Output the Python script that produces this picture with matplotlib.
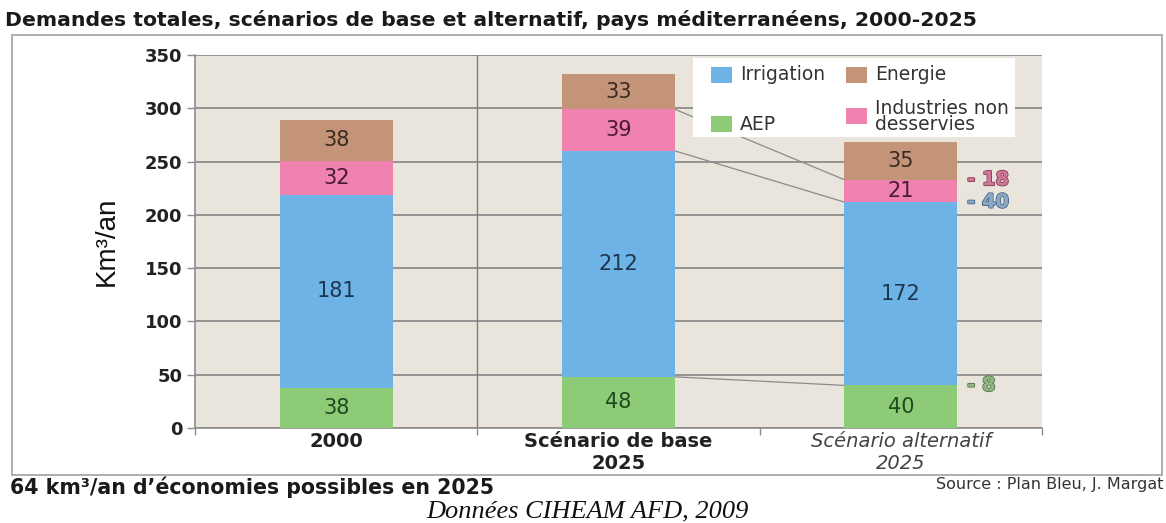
import numpy as np
import matplotlib.pyplot as plt
from matplotlib.patches import Rectangle
import matplotlib.patheffects as pe

# données (km3/an)
categories = ['2000', 'Scénario de base\n2025', 'Scénario alternatif\n2025']
aep = [38, 48, 40]
irrigation = [181, 212, 172]
industries = [32, 39, 21]
energie = [38, 33, 35]
yticks = [0, 50, 100, 150, 200, 250, 300, 350]

series = [('AEP', aep, '#8DCB76', '#1F4A1F'),
          ('Irrigation', irrigation, '#6DB3E5', '#1F3550'),
          ('Industries non\ndesservies', industries, '#EF82AF', '#4A1A30'),
          ('Energie', energie, '#C49479', '#3A2A20')]
diff_colors = {'AEP': ('#8DB57F', '#4F7045'),
               'Irrigation': ('#8AA8C6', '#3F5F80'),
               'Industries non\ndesservies': ('#CF7896', '#7A3550')}

W, H = 1166, 523
AX_L, AX_R, AX_T, AX_B = 195, 1042, 55, 428

fig = plt.figure(figsize=(W/100, H/100), dpi=100)

# cadre blanc autour du graphique
fig.patches.append(Rectangle((12/W, 1-475/H), 1150/W, 440/H,
                             transform=fig.transFigure, facecolor='white',
                             edgecolor='#A8A8A8', lw=1.3, zorder=-5))

ax = fig.add_axes([AX_L/W, 1-AX_B/H, (AX_R-AX_L)/W, (AX_B-AX_T)/H])
ax.set_facecolor('#EAE5DC')

def axpos(px, py):
    # pixel (image) -> fraction d'axes
    return (px - AX_L) / (AX_R - AX_L), (AX_B - py) / (AX_B - AX_T)

x = np.arange(len(categories))
w = 0.4
bottom = np.zeros(len(categories))
tops = {}
for name, vals, col, tcol in series:
    vals = np.array(vals)
    ax.bar(x, vals, w, bottom=bottom, color=col, zorder=3)
    for xi, b, v in zip(x, bottom, vals):
        ax.text(xi, b + v/2, str(v), ha='center', va='center', fontsize=15,
                color=tcol, zorder=4)
    bottom = bottom + vals
    tops[name] = bottom.copy()

# lignes de liaison base -> alternatif et écarts
for name, vals, col, tcol in series[:3]:
    t = tops[name]
    ax.plot([1 + w/2, 2 - w/2], [t[1], t[2]], color='#8A8A8A', lw=0.9, zorder=2)
    d = vals[2] - vals[1]
    fc, ec = diff_colors[name]
    ax.text(2 + w/2 + 0.035, t[2], f'- {abs(d)}', ha='left', va='center',
            fontsize=14, fontweight='bold', color=fc, zorder=4,
            path_effects=[pe.withStroke(linewidth=1.3, foreground=ec), pe.Normal()])

ax.set_xlim(-0.5, 2.5)
ax.set_ylim(0, 350)
ax.set_yticks(yticks)
ax.set_yticklabels([str(v) for v in yticks], fontsize=13, fontweight='bold', color='#222222')
ax.yaxis.grid(True, color='#8C8C8C', lw=1.3, zorder=0)
ax.set_axisbelow(True)
ax.axvline(0.5, color='#7A7A7A', lw=1.0, zorder=1)
ax.tick_params(axis='y', length=6, width=1, color='#8C8C8C', pad=3)

ax.set_xticks(x)
ax.set_xticklabels(categories)
ax.set_xticks([-0.5, 0.5, 1.5, 2.5], minor=True)
ax.tick_params(axis='x', which='major', length=0, pad=3)
ax.tick_params(axis='x', which='minor', length=5, width=1, color='#8C8C8C')
xl = ax.get_xticklabels()
for lab in xl[:2]:
    lab.set_fontsize(14)
    lab.set_fontweight('bold')
    lab.set_color('#222222')
xl[2].set_fontsize(14)
xl[2].set_fontstyle('italic')
xl[2].set_color('#444444')

for s in ['top', 'right']:
    ax.spines[s].set_visible(False)
for s in ['left', 'bottom']:
    ax.spines[s].set_color('#8C8C8C')
    ax.spines[s].set_linewidth(1.2)

ax.set_ylabel('Km³/an', fontsize=20, family=['Liberation Sans', 'DejaVu Sans'],
              color='#111111', labelpad=18)

# légende (2 x 2, lignes alignées comme sur l'original)
bx0, by0 = axpos(693, 137)
bx1, by1 = axpos(1015, 58)
ax.add_patch(Rectangle((bx0, by0), bx1-bx0, by1-by0, transform=ax.transAxes,
                       facecolor='white', edgecolor='none', zorder=10))
leg_items = [(series[1], 711, 75), (series[3], 846, 75),
             (series[0], 711, 124), (series[2], 846, 116)]
for (name, vals, col, tcol), px, py in leg_items:
    p0 = axpos(px, py + 7.5)
    p1 = axpos(px + 21, py - 7.5)
    ax.add_patch(Rectangle(p0, p1[0]-p0[0], p1[1]-p0[1], transform=ax.transAxes,
                           facecolor=col, edgecolor='none', zorder=11))
    tx, ty = axpos(px + 29, py)
    ax.text(tx, ty, name, transform=ax.transAxes, ha='left', va='center',
            fontsize=13.5, color='#333333', linespacing=0.8, zorder=12)

fig.text(5/W, 1-20/H, 'Demandes totales, scénarios de base et alternatif, pays méditerranéens, 2000-2025',
         fontsize=14.7, fontweight='bold', color='#1A1A1A', ha='left', va='center')
fig.text(10/W, 1-487/H, '64 km³/an d\u2019économies possibles en 2025', fontsize=14.8,
         fontweight='bold', color='#1A1A1A', ha='left', va='center')
fig.text(1164/W, 1-485/H, 'Source : Plan Bleu, J. Margat', fontsize=11.5,
         color='#333333', ha='right', va='center')
fig.text(587/W, 1-511/H, 'Données CIHEAM AFD, 2009', fontsize=19, style='italic',
         family=['Liberation Serif', 'DejaVu Serif'], color='#111111', ha='center', va='center')

fig.savefig('out.png', dpi=100)
